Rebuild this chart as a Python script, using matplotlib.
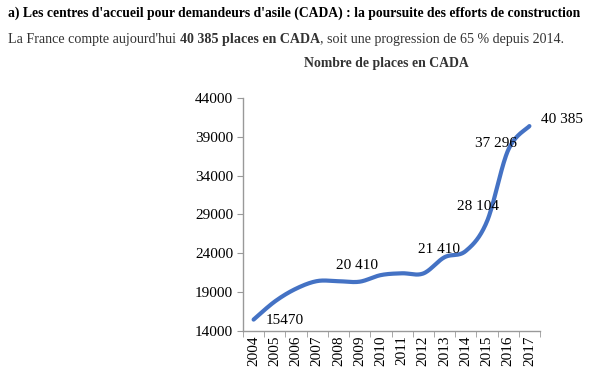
import numpy as np
import matplotlib
matplotlib.use("Agg")
import matplotlib.pyplot as plt

years = ["2004", "2005", "2006", "2007", "2008", "2009", "2010",
         "2011", "2012", "2013", "2014", "2015", "2016", "2017"]
places = [15470, 17800, 19450, 20430, 20410, 20350, 21200,
          21430, 21410, 23500, 24300, 28104, 37296, 40385]
label_idx = [0, 4, 8, 11, 12, 13]
label_txt = ["15470", "20 410", "21 410", "28 104", "37 296", "40 385"]
yticks = [14000, 19000, 24000, 29000, 34000, 39000, 44000]

plt.rcParams['font.family'] = ['Liberation Serif', 'DejaVu Serif']
TXT = "#333333"

fig = plt.figure(figsize=(6.13, 3.85), dpi=100)
ax = fig.add_axes([243/613, 1-331/385, (540-243)/613, (331-98)/385])

x = np.arange(len(years), dtype=float)
y = np.array(places, dtype=float)

# Catmull-Rom smoothing (like Excel's smoothed line)
def catmull(xp, yp, n=30):
    P = np.column_stack([xp, yp])
    P = np.vstack([P[0], P, P[-1]])
    out = []
    for i in range(1, len(P) - 2):
        p0, p1, p2, p3 = P[i-1], P[i], P[i+1], P[i+2]
        t = np.linspace(0, 1, n)[:, None]
        c = 0.5 * ((2*p1) + (-p0 + p2)*t + (2*p0 - 5*p1 + 4*p2 - p3)*t**2
                   + (-p0 + 3*p1 - 3*p2 + p3)*t**3)
        out.append(c if i == 1 else c[1:])
    return np.vstack(out)

curve = catmull(x, y)
ax.plot(curve[:, 0], curve[:, 1], color="#4472C4", lw=3.0,
        solid_capstyle="round", zorder=3)

ax.set_xlim(-0.5, len(years) - 0.5)
ax.set_ylim(14000, 44000)
ax.set_yticks(yticks)
ax.set_yticklabels([str(v) for v in yticks])
ax.set_xticks(x)
ax.set_xticklabels(years, rotation=90)
ax.set_xticks(np.arange(-0.5, len(years), 1.0), minor=True)
ax.tick_params(axis='x', which='major', length=0, pad=3, labelsize=11, labelcolor="black")
ax.tick_params(axis='x', which='minor', length=4, color="#999999", direction='out')
ax.tick_params(axis='y', length=4, color="#999999", pad=3, labelsize=11, labelcolor="black")
for s in ["top", "right"]:
    ax.spines[s].set_visible(False)
for s in ["left", "bottom"]:
    ax.spines[s].set_color("#999999")
    ax.spines[s].set_linewidth(1.0)

# data labels (offsets in points)
offsets = {0: (9, -1, 'left'), 4: (13, 11, 'center'), 8: (11.5, 17, 'center'),
           11: (-6.5, 11, 'center'), 12: (-9, 5, 'center'), 13: (8, 4.5, 'left')}
for i, t in zip(label_idx, label_txt):
    dx, dy, ha = offsets[i]
    ax.annotate(t, (x[i], y[i]), xytext=(dx, dy), textcoords="offset points",
                ha=ha, va="center", fontsize=11, color="black", zorder=4)

fig.text(8/613, 1-13/385, "a) Les centres d'accueil pour demandeurs d'asile (CADA) : la poursuite des efforts de construction",
         fontsize=9.85, fontweight="bold", color="black", va="center", ha="left")

# mixed-weight subtitle
pieces = [("La France compte aujourd'hui ", "normal"),
          ("40 385 places en CADA", "bold"),
          (", soit une progression de 65 % depuis 2014.", "normal")]
fig.canvas.draw()
r = fig.canvas.get_renderer()
xpos = 8
for txt, w in pieces:
    t = fig.text(0, 0, txt, fontsize=10.1, fontweight=w, color=TXT, va="center", ha="left",
                 transform=None)
    t.set_position((xpos, 385 - 39))
    bb = t.get_window_extent(renderer=r)
    xpos += bb.width

fig.text(386/613, 1-64/385, "Nombre de places en CADA", fontsize=9.9, fontweight="bold",
         color=TXT, ha="center", va="center")

fig.savefig("out.png", dpi=100)
